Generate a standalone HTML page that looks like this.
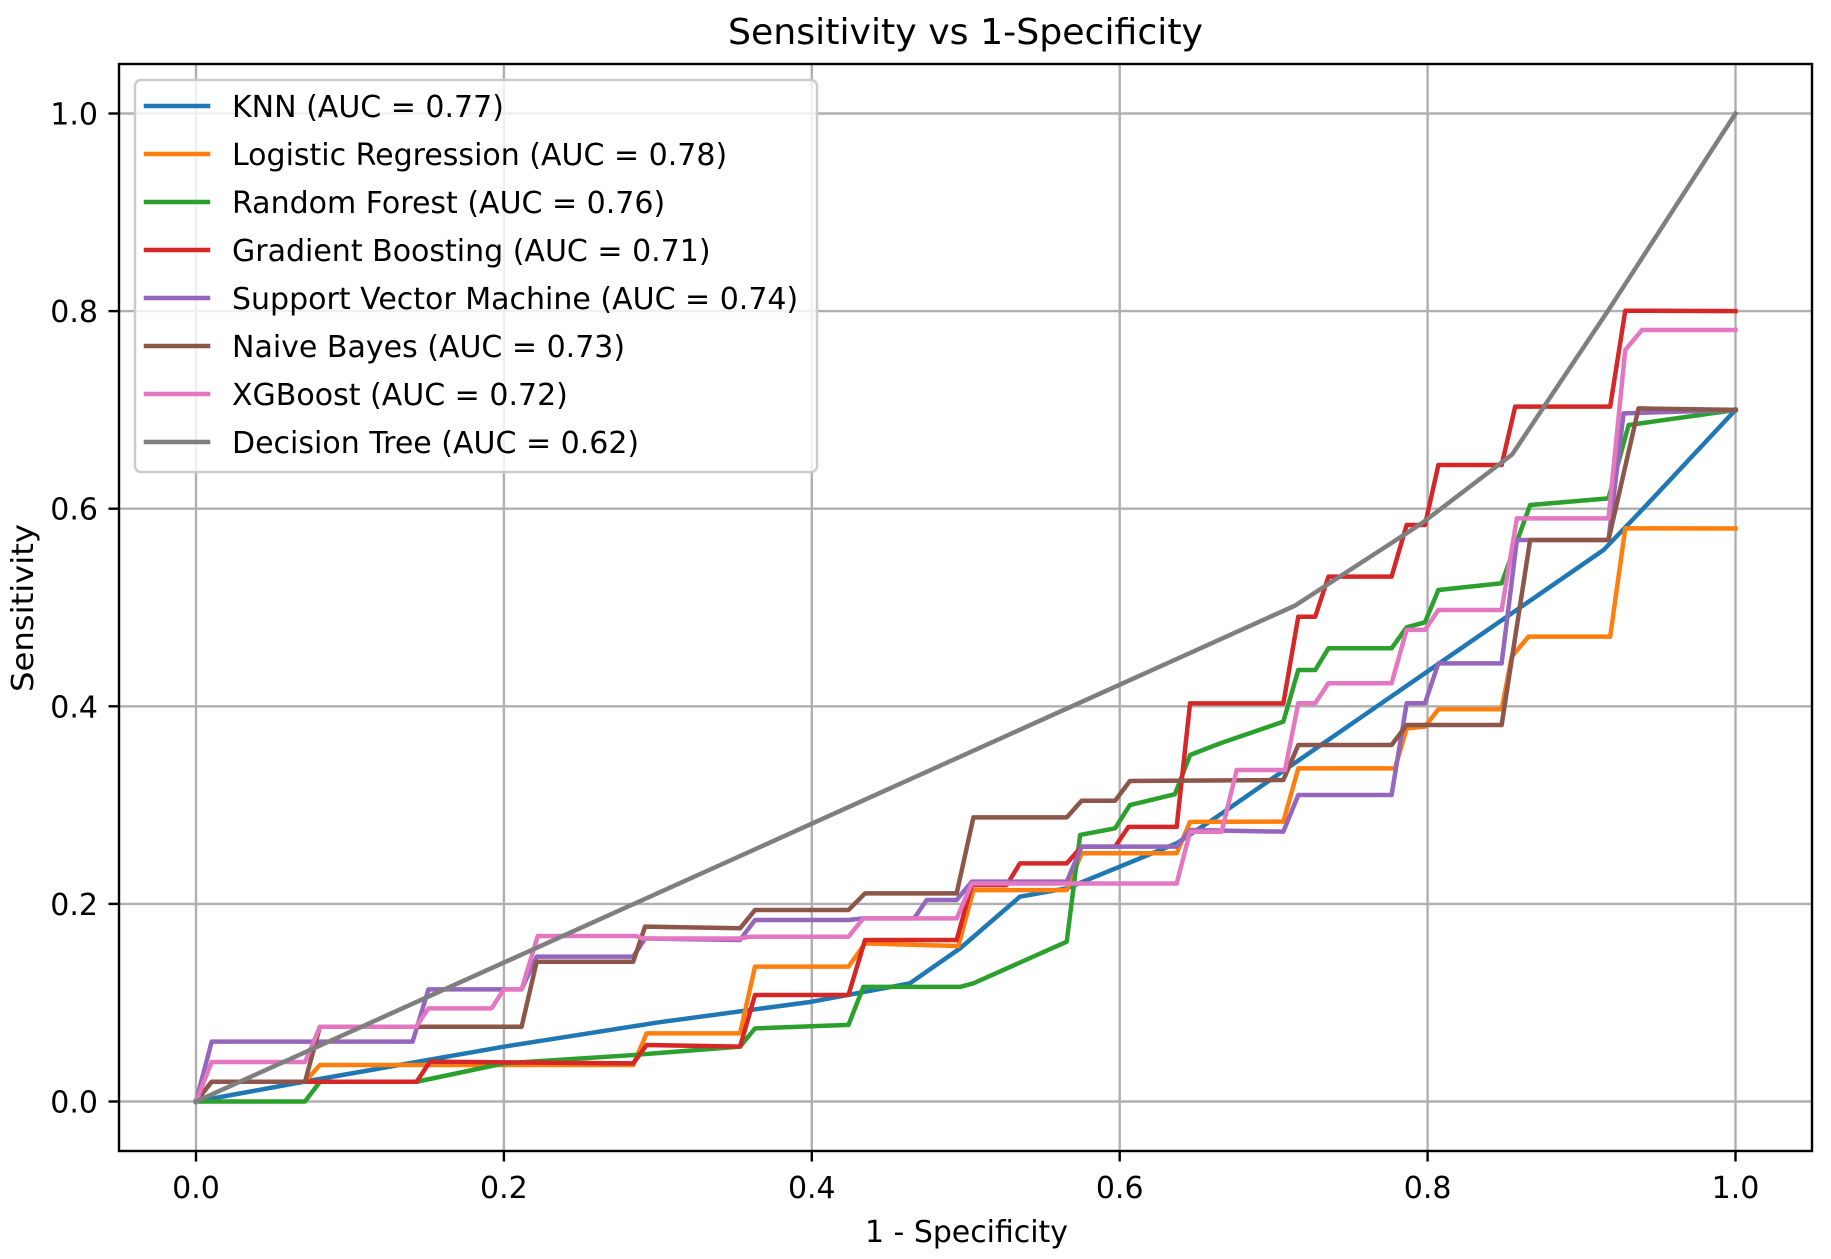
<!DOCTYPE html>
<html>
<head>
<meta charset="utf-8">
<style>
html,body{margin:0;padding:0;background:#fff;}
svg{display:block;}
text{font-family:"DejaVu Sans","Liberation Sans",sans-serif;fill:#000;}
</style>
</head>
<body>
<svg width="1831" height="1259" viewBox="0 0 1831 1259" xmlns="http://www.w3.org/2000/svg">
<rect x="0" y="0" width="1831" height="1259" fill="#fff"/>
<!-- title -->
<text x="965.5" y="44" font-size="36" text-anchor="middle" textLength="475" lengthAdjust="spacingAndGlyphs">Sensitivity vs 1-Specificity</text>

<!-- grid -->
<g stroke="#b0b0b0" stroke-width="2.4">
<line x1="196" y1="64" x2="196" y2="1151"/>
<line x1="503.9" y1="64" x2="503.9" y2="1151"/>
<line x1="811.8" y1="64" x2="811.8" y2="1151"/>
<line x1="1119.7" y1="64" x2="1119.7" y2="1151"/>
<line x1="1427.6" y1="64" x2="1427.6" y2="1151"/>
<line x1="1735.5" y1="64" x2="1735.5" y2="1151"/>
<line x1="119" y1="1101.5" x2="1812" y2="1101.5"/>
<line x1="119" y1="903.9" x2="1812" y2="903.9"/>
<line x1="119" y1="706.3" x2="1812" y2="706.3"/>
<line x1="119" y1="508.7" x2="1812" y2="508.7"/>
<line x1="119" y1="311.1" x2="1812" y2="311.1"/>
<line x1="119" y1="113.5" x2="1812" y2="113.5"/>
</g>

<!-- series -->
<g transform="matrix(1539.5 0 0 -988 196 1101.5)" fill="none" stroke-width="4.5" stroke-linejoin="round" stroke-linecap="square">
<polyline vector-effect="non-scaling-stroke" stroke="#1f77b4" points="0,0 0.07,0.02 0.2,0.0555 0.3,0.08 0.4,0.101 0.4637,0.1196 0.4963,0.155 0.5352,0.2073 0.5656,0.2158 0.6,0.2377 0.637,0.2613 0.662,0.287 0.9143,0.5582 0.94,0.6 1,0.7"/>
<polyline vector-effect="non-scaling-stroke" stroke="#ff7f0e" points="0,0 0.0102,0.02 0.0708,0.02 0.0805,0.037 0.284,0.037 0.2927,0.069 0.3534,0.069 0.3631,0.1365 0.4238,0.1365 0.4346,0.16 0.4952,0.1574 0.505,0.214 0.5656,0.214 0.5753,0.2513 0.637,0.2513 0.6457,0.283 0.7063,0.2833 0.716,0.3372 0.7788,0.3372 0.7864,0.3777 0.7983,0.3794 0.807,0.397 0.8481,0.397 0.8547,0.4503 0.8655,0.4705 0.9186,0.4705 0.9284,0.5801 1,0.58"/>
<polyline vector-effect="non-scaling-stroke" stroke="#2ca02c" points="0,0 0.0708,0 0.0805,0.02 0.1433,0.02 0.2,0.0386 0.284,0.047 0.3534,0.0555 0.3631,0.074 0.4238,0.0775 0.4335,0.116 0.4963,0.116 0.505,0.1196 0.5656,0.1618 0.5743,0.2698 0.597,0.2765 0.6066,0.3 0.6359,0.311 0.6457,0.3507 0.6652,0.3625 0.7063,0.3845 0.716,0.4367 0.727,0.4367 0.7356,0.4587 0.7766,0.4587 0.7864,0.48 0.7983,0.485 0.807,0.5177 0.8481,0.5245 0.8666,0.6037 0.9175,0.6105 0.9306,0.6847 1,0.7"/>
<polyline vector-effect="non-scaling-stroke" stroke="#d62728" points="0,0 0.0102,0.02 0.1433,0.02 0.152,0.0403 0.284,0.0386 0.2927,0.0572 0.3534,0.0555 0.3631,0.1078 0.4238,0.1078 0.4346,0.1635 0.4941,0.1635 0.5039,0.219 0.5266,0.219 0.5352,0.241 0.5656,0.241 0.5753,0.258 0.597,0.258 0.6057,0.278 0.637,0.278 0.6457,0.403 0.7063,0.403 0.716,0.4907 0.727,0.4907 0.7356,0.5312 0.7766,0.5312 0.7864,0.5835 0.7983,0.5835 0.807,0.6442 0.8481,0.6442 0.8569,0.7033 0.9186,0.7033 0.9284,0.8004 1,0.8"/>
<polyline vector-effect="non-scaling-stroke" stroke="#9467bd" points="0,0 0.0102,0.0606 0.1407,0.0606 0.151,0.1135 0.2115,0.1135 0.2213,0.1466 0.284,0.1466 0.2917,0.165 0.3534,0.1635 0.3631,0.1837 0.4238,0.1837 0.4335,0.1853 0.4665,0.1853 0.4746,0.204 0.4941,0.204 0.5039,0.2225 0.5656,0.2225 0.5753,0.258 0.637,0.258 0.6457,0.2748 0.7063,0.2731 0.716,0.3102 0.7766,0.3102 0.7864,0.4031 0.7983,0.4031 0.807,0.4435 0.8481,0.4435 0.858,0.5683 0.9175,0.5683 0.9273,0.6965 1,0.7"/>
<polyline vector-effect="non-scaling-stroke" stroke="#8c564b" points="0,0 0.0102,0.02 0.0708,0.02 0.0805,0.0757 0.2115,0.0757 0.2213,0.1415 0.284,0.1415 0.2917,0.177 0.3534,0.1753 0.3631,0.1938 0.4238,0.1938 0.4346,0.2107 0.4941,0.2107 0.505,0.2876 0.5656,0.2876 0.5753,0.3044 0.597,0.3044 0.6066,0.3244 0.7063,0.3254 0.716,0.3608 0.7766,0.3608 0.7864,0.3811 0.8481,0.3811 0.8666,0.5683 0.9175,0.5683 0.937,0.7015 1,0.7"/>
<polyline vector-effect="non-scaling-stroke" stroke="#e377c2" points="0,0 0.0102,0.04 0.0708,0.04 0.0805,0.0757 0.143,0.0757 0.151,0.0943 0.192,0.0943 0.2,0.1135 0.2115,0.1135 0.222,0.1675 0.286,0.1675 0.29,0.165 0.3534,0.165 0.36,0.1668 0.4238,0.1668 0.4335,0.1853 0.4941,0.1853 0.5039,0.2206 0.637,0.2206 0.6457,0.273 0.6662,0.273 0.676,0.3355 0.7074,0.3355 0.716,0.4031 0.727,0.4031 0.7356,0.4233 0.7766,0.4233 0.7864,0.4773 0.7983,0.4773 0.807,0.4975 0.8481,0.4975 0.858,0.5902 0.9175,0.5902 0.9284,0.7607 0.9393,0.7809 1,0.7809"/>
<polyline vector-effect="non-scaling-stroke" stroke="#7f7f7f" points="0,0 0.714,0.502 0.7962,0.5852 0.855,0.655 0.8763,0.705 0.9175,0.8011 1,1"/>
</g>

<!-- spines -->
<rect x="119" y="64" width="1693" height="1087" fill="none" stroke="#000" stroke-width="2.4"/>

<!-- ticks -->
<g stroke="#000" stroke-width="2.4">
<line x1="196" y1="1151" x2="196" y2="1161.5"/>
<line x1="503.9" y1="1151" x2="503.9" y2="1161.5"/>
<line x1="811.8" y1="1151" x2="811.8" y2="1161.5"/>
<line x1="1119.7" y1="1151" x2="1119.7" y2="1161.5"/>
<line x1="1427.6" y1="1151" x2="1427.6" y2="1161.5"/>
<line x1="1735.5" y1="1151" x2="1735.5" y2="1161.5"/>
<line x1="108.5" y1="1101.5" x2="119" y2="1101.5"/>
<line x1="108.5" y1="903.9" x2="119" y2="903.9"/>
<line x1="108.5" y1="706.3" x2="119" y2="706.3"/>
<line x1="108.5" y1="508.7" x2="119" y2="508.7"/>
<line x1="108.5" y1="311.1" x2="119" y2="311.1"/>
<line x1="108.5" y1="113.5" x2="119" y2="113.5"/>
</g>

<!-- tick labels -->
<g font-size="30" text-anchor="middle">
<text x="196" y="1198">0.0</text>
<text x="503.9" y="1198">0.2</text>
<text x="811.8" y="1198">0.4</text>
<text x="1119.7" y="1198">0.6</text>
<text x="1427.6" y="1198">0.8</text>
<text x="1735.5" y="1198">1.0</text>
</g>
<g font-size="30" text-anchor="end">
<text x="98" y="1112.5">0.0</text>
<text x="98" y="914.9">0.2</text>
<text x="98" y="717.3">0.4</text>
<text x="98" y="519.7">0.6</text>
<text x="98" y="322.1">0.8</text>
<text x="98" y="124.5">1.0</text>
</g>

<!-- axis labels -->
<text x="865" y="1242" font-size="30" textLength="203" lengthAdjust="spacingAndGlyphs">1 - Specificity</text>
<text transform="translate(33 608) rotate(-90)" font-size="30" text-anchor="middle" textLength="168" lengthAdjust="spacingAndGlyphs">Sensitivity</text>

<!-- legend -->
<rect x="135" y="80" width="682" height="392" rx="6" ry="6" fill="#fff" fill-opacity="0.8" stroke="#cccccc" stroke-width="2.5"/>
<g stroke-width="4.5" stroke-linecap="square">
<line x1="146" y1="106" x2="208" y2="106" stroke="#1f77b4"/>
<line x1="146" y1="154" x2="208" y2="154" stroke="#ff7f0e"/>
<line x1="146" y1="202" x2="208" y2="202" stroke="#2ca02c"/>
<line x1="146" y1="250" x2="208" y2="250" stroke="#d62728"/>
<line x1="146" y1="298" x2="208" y2="298" stroke="#9467bd"/>
<line x1="146" y1="346" x2="208" y2="346" stroke="#8c564b"/>
<line x1="146" y1="394" x2="208" y2="394" stroke="#e377c2"/>
<line x1="146" y1="442" x2="208" y2="442" stroke="#7f7f7f"/>
</g>
<g font-size="30">
<text x="232" y="117">KNN (AUC = 0.77)</text>
<text x="232" y="165">Logistic Regression (AUC = 0.78)</text>
<text x="232" y="213">Random Forest (AUC = 0.76)</text>
<text x="232" y="261">Gradient Boosting (AUC = 0.71)</text>
<text x="232" y="309">Support Vector Machine (AUC = 0.74)</text>
<text x="232" y="357">Naive Bayes (AUC = 0.73)</text>
<text x="232" y="405">XGBoost (AUC = 0.72)</text>
<text x="232" y="453">Decision Tree (AUC = 0.62)</text>
</g>
</svg>
</body>
</html>
